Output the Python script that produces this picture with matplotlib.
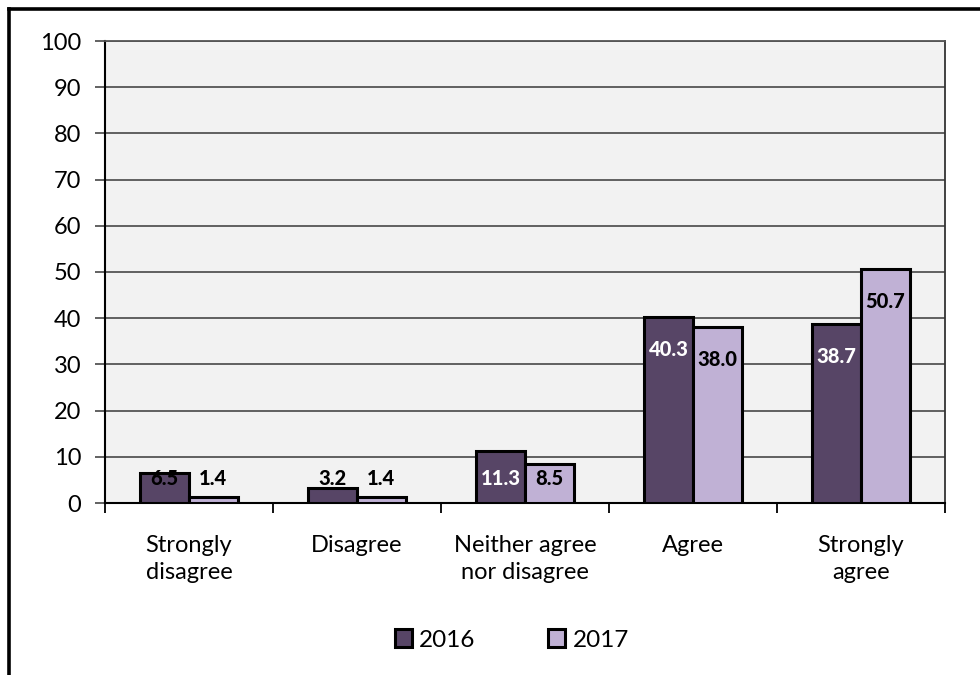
import numpy as np
import matplotlib
matplotlib.use('Agg')
from matplotlib import pyplot as plt
from matplotlib.lines import Line2D

plt.rcParams['font.family'] = ['Lato', 'DejaVu Sans']

categories = ['Strongly\ndisagree', 'Disagree', 'Neither agree\nnor disagree', 'Agree', 'Strongly\nagree']
years = ['2016', '2017']
vals_2016 = [6.5, 3.2, 11.3, 40.3, 38.7]
vals_2017 = [1.4, 1.4, 8.5, 38.0, 50.7]
yticks = np.arange(0, 101, 10)

col_2016 = '#574566'
col_2017 = '#C0B1D5'

fig = plt.figure(figsize=(9.8, 6.75), dpi=100)
ax = fig.add_axes([105/980, 172/675, 840/980, 462/675])
ax.set_facecolor('#F2F2F2')

x = np.arange(len(categories))
w = 0.289
b16 = ax.bar(x - w/2, vals_2016, w, color=col_2016, edgecolor='black', linewidth=2.2, zorder=3, label=years[0])
b17 = ax.bar(x + w/2, vals_2017, w, color=col_2017, edgecolor='black', linewidth=2.2, zorder=3, label=years[1])

# value labels just inside the top of each bar, kept clear of the axis
def put_labels(xs, vals, light):
    for xi, v in zip(xs, vals):
        yl = max(v - 7.0, 5.4)
        c = 'white' if (light and v > 10) else 'black'
        ax.text(xi, yl, '{:.1f}'.format(v), ha='center', va='center',
                fontsize=14.5, fontweight='black', color=c, zorder=4)

put_labels(x - w/2, vals_2016, True)
put_labels(x + w/2, vals_2017, False)

ax.set_xlim(-0.5, len(categories) - 0.5)
ax.set_ylim(0, 100)
ax.set_yticks(yticks)
ax.yaxis.grid(True, color='#555555', linewidth=1.3, zorder=0)
ax.tick_params(axis='y', length=7, width=1.3, pad=10, labelsize=17, color='#555555')

ax.set_xticks(x)
ax.set_xticklabels(categories, fontsize=17, linespacing=1.35)
ax.set_xticks(np.arange(-0.5, len(categories)), minor=True)
ax.tick_params(axis='x', which='major', length=0, pad=23)
ax.tick_params(axis='x', which='minor', length=7, width=1.3, color='black')

for s in ['left', 'bottom']:
    ax.spines[s].set_linewidth(1.5)
    ax.spines[s].set_color('black')
ax.spines['top'].set_color('#555555')
ax.spines['top'].set_linewidth(1.3)
ax.spines['right'].set_color('#333333')
ax.spines['right'].set_linewidth(1.3)

fig.legend(handles=[b16, b17], loc='center', bbox_to_anchor=(512/980, 1 - 640/675),
           ncol=2, frameon=False, fontsize=17.5, handlelength=0.7, handleheight=0.7,
           handletextpad=0.3, columnspacing=3.0)

# outer chart border (top and left edges)
fig.add_artist(Line2D([8.5/980, 1], [1 - 8.5/675, 1 - 8.5/675], color='black', linewidth=2.6))
fig.add_artist(Line2D([8.5/980, 8.5/980], [0, 1 - 8.5/675], color='black', linewidth=2.6))

fig.savefig('out.png', dpi=100)
